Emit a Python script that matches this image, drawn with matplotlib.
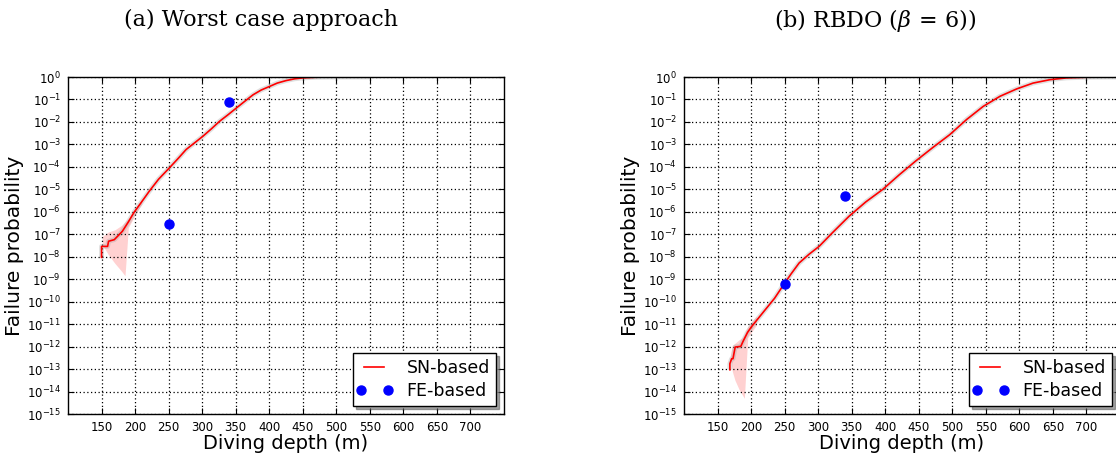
import numpy as np
import matplotlib
matplotlib.use("Agg")
import matplotlib.pyplot as plt
import matplotlib.ticker as mticker
from matplotlib.legend_handler import HandlerLine2D

# (a) worst case approach, SN-based curve (depth m, log10 Pf)
a_x = [150, 150, 159, 160.5, 169, 181, 190, 198.5, 210, 221, 235, 251, 265, 276, 290, 301, 314, 326,
       339, 351, 364, 376, 388, 400.5, 412, 425, 438, 450, 470, 500, 550]
a_y = [-8.03, -7.54, -7.54, -7.31, -7.24, -6.87, -6.45, -6.02, -5.55, -5.09, -4.55, -4.05, -3.6, -3.23,
       -2.9, -2.64, -2.3, -1.97, -1.67, -1.38, -1.07, -0.79, -0.58, -0.42, -0.27, -0.16, -0.08, -0.04,
       -0.01, 0.0, 0.0]
# red confidence band at the low end of (a)
a_band_x = [151, 160, 170, 180, 185, 190, 200, 210]
a_band_hi = [-7.1, -6.9, -6.8, -6.6, -6.45, -6.3, -5.9, -5.45]
a_band_lo = [-7.45, -7.9, -8.3, -8.65, -8.85, -6.7, -6.15, -5.65]
# FE-based points (a)
a_fe_x = [250, 340]
a_fe_y = [2.9e-7, 7.8e-2]

# (b) RBDO beta=6, SN-based curve
b_x = [168.4, 168.4, 171, 173, 176.3, 184.7, 188, 194.7, 201, 207, 220, 235, 249.3, 260, 271.6, 286,
       301.4, 321, 346, 371, 396, 421, 445, 470, 496, 521, 546, 571, 596, 620.5, 645.5, 670, 700, 750]
b_y = [-13.03, -12.76, -12.54, -12.54, -12.02, -11.99, -11.77, -11.37, -11.1, -10.88, -10.4, -9.85, -9.21,
       -8.75, -8.28, -7.9, -7.54, -6.94, -6.2, -5.56, -5.01, -4.35, -3.75, -3.16, -2.57, -1.9, -1.31,
       -0.86, -0.53, -0.27, -0.12, -0.04, -0.01, 0.0]
b_band_x = [169, 172, 176, 182, 187, 190, 195, 202, 208]
b_band_hi = [-12.4, -11.95, -11.85, -11.7, -11.6, -11.45, -11.1, -10.85, -10.65]
b_band_lo = [-12.5, -13.1, -13.5, -13.9, -14.15, -14.3, -11.6, -11.3, -11.05]
b_fe_x = [250, 340]
b_fe_y = [6.1e-10, 4.9e-6]

titles = ["(a) Worst case approach", r"(b) RBDO ($\beta\,=\,6$))"]
title_x = [261, 875]

plt.rcParams["mathtext.fontset"] = "dejavusans"
plt.rcParams["font.family"] = "DejaVu Sans"

W, H = 1116, 453
fig = plt.figure(figsize=(W / 100, H / 100), dpi=100)


def panel(left, cx, cy, bx, lo, hi, fx, fy):
    ax = fig.add_axes([left / W, 1 - 414 / H, 436 / W, 337 / H])
    ax.plot(cx, 10 ** np.array(cy), color="0.6", lw=3.5, alpha=0.3, solid_capstyle="butt")
    ax.fill_between(bx, 10 ** np.array(lo), 10 ** np.array(hi), color="red", alpha=0.18, lw=0)
    ax.plot(cx, 10 ** np.array(cy), color="red", lw=1.2, label="SN-based")
    fe, = ax.plot(fx, fy, "o", color="blue", mec="blue", ms=6.5, label="FE-based")
    ax.set_yscale("log")
    ax.set_xlim(100, 750)
    ax.set_ylim(1e-15, 1)
    ax.set_xticks(np.arange(150, 701, 50))
    ax.yaxis.set_major_locator(mticker.LogLocator(base=10, numticks=20))
    ax.yaxis.set_minor_locator(mticker.NullLocator())
    ax.grid(True, color="black", linestyle=(0, (1, 2)), lw=0.9)
    ax.tick_params(direction="in", length=4, top=True, right=True, labelsize=8.5, pad=5)
    ax.set_xlabel("Diving depth (m)", fontsize=14, labelpad=0)
    ax.set_ylabel("Failure probability", fontsize=14.5, labelpad=2)
    leg = ax.legend(loc="lower right", numpoints=2, fontsize=12.5, shadow=True, fancybox=False,
                    borderaxespad=0.45, handlelength=1.75, handletextpad=1.0, labelspacing=0.3,
                    borderpad=0.35, handler_map={fe: HandlerLine2D(marker_pad=0.1)})
    leg.get_frame().set_edgecolor("black")
    leg.get_frame().set_linewidth(1)
    for s in ax.spines.values():
        s.set_linewidth(1)
    return ax


panel(68, a_x, a_y, a_band_x, a_band_lo, a_band_hi, a_fe_x, a_fe_y)
panel(684, b_x, b_y, b_band_x, b_band_lo, b_band_hi, b_fe_x, b_fe_y)

for t, x in zip(titles, title_x):
    fig.text(x / W, 1 - 20 / H, t, ha="center", va="center", fontsize=16,
             family="DejaVu Serif", math_fontfamily="dejavuserif")

fig.savefig("out.png", dpi=100)
